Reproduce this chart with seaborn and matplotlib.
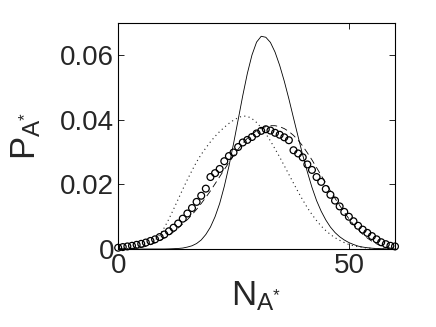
import matplotlib
matplotlib.use('Agg')
import matplotlib.pyplot as plt
import numpy as np
import pandas as pd
import seaborn as sns

# N_A* values 0..60
n_vals = list(range(61))

# circles (simulation)
p_circles = [0.0004, 0.0006, 0.0008, 0.0010, 0.0013, 0.0016, 0.0020, 0.0025, 0.0030, 0.0037,
             0.0045, 0.0055, 0.0066, 0.0079, 0.0094, 0.0110, 0.0127, 0.0146, 0.0165, 0.0187,
             0.0223, 0.0235, 0.0248, 0.0272, 0.0288, 0.0299, 0.0316, 0.0330, 0.0338, 0.0347,
             0.0358, 0.0366, 0.0371, 0.0367, 0.0360, 0.0354, 0.0346, 0.0337, 0.0306, 0.0296,
             0.0284, 0.0262, 0.0245, 0.0223, 0.0208, 0.0186, 0.0168, 0.0150, 0.0132, 0.0115,
             0.0100, 0.0086, 0.0072, 0.0060, 0.0050, 0.0040, 0.0030, 0.0021, 0.0015, 0.0010,
             0.0008]

# solid curve (narrow)
p_solid = [0, 0, 0, 0, 0, 0, 0, 0, 0, 0,
           0, 0.00004, 0.0001, 0.00017, 0.0003, 0.0006, 0.0010, 0.0017, 0.0028, 0.0045,
           0.0068, 0.0100, 0.0141, 0.0194, 0.0256, 0.0326, 0.0400, 0.0475, 0.0544, 0.0601,
           0.0641, 0.0659, 0.0656, 0.0640, 0.0610, 0.0569, 0.0520, 0.0465, 0.0406, 0.0348,
           0.0291, 0.0239, 0.0191, 0.0150, 0.0117, 0.0090, 0.0068, 0.0051, 0.0038, 0.0028,
           0.0020, 0.0014, 0.0009, 0.0006, 0.0004, 0.00025, 0.00015, 0.0001, 0.00005, 0.00003,
           0.00001]

# dotted curve
p_dotted = [0, 0, 0.0001, 0.0002, 0.0004, 0.0007, 0.0010, 0.0016, 0.0027, 0.0044,
            0.0066, 0.0093, 0.0123, 0.0154, 0.0185, 0.0215, 0.0243, 0.0270, 0.0293, 0.0313,
            0.0332, 0.0349, 0.0364, 0.0377, 0.0389, 0.0399, 0.0407, 0.0412, 0.0411, 0.0404,
            0.0392, 0.0376, 0.0357, 0.0335, 0.0310, 0.0285, 0.0258, 0.0231, 0.0204, 0.0177,
            0.0152, 0.0128, 0.0107, 0.0088, 0.0071, 0.0057, 0.0045, 0.0035, 0.0027, 0.0020,
            0.0014, 0.0010, 0.0007, 0.0005, 0.0003, 0.0002, 0.0001, 0.0001, 0.00005, 0,
            0]

# dashed curve
p_dashed = [0, 0, 0.0001, 0.0002, 0.0003, 0.0005, 0.0008, 0.0013, 0.0019, 0.0026,
            0.0034, 0.0043, 0.0053, 0.0065, 0.0078, 0.0091, 0.0106, 0.0123, 0.0141, 0.0160,
            0.0180, 0.0202, 0.0224, 0.0246, 0.0268, 0.0289, 0.0309, 0.0327, 0.0343, 0.0356,
            0.0366, 0.0374, 0.0379, 0.0382, 0.0382, 0.0379, 0.0373, 0.0364, 0.0352, 0.0337,
            0.0319, 0.0298, 0.0276, 0.0252, 0.0228, 0.0204, 0.0180, 0.0157, 0.0135, 0.0114,
            0.0094, 0.0076, 0.0060, 0.0046, 0.0034, 0.0024, 0.0016, 0.0010, 0.0006, 0.0003,
            0.0001]

df = pd.DataFrame({'n': n_vals, 'circ': p_circles, 'solid': p_solid,
                   'dot': p_dotted, 'dash': p_dashed})

sns.set_style('ticks')
plt.rcParams['font.family'] = ['Liberation Sans', 'DejaVu Sans']
plt.rcParams['mathtext.fontset'] = 'custom'
plt.rcParams['mathtext.rm'] = 'Liberation Sans'
plt.rcParams['mathtext.it'] = 'Liberation Sans:italic'
plt.rcParams['mathtext.bf'] = 'Liberation Sans:bold'

fig = plt.figure(figsize=(4.36, 3.27), dpi=100)
ax = fig.add_axes([0.271, 0.2385, 0.635, 0.691])

sns.lineplot(data=df, x='n', y='solid', ax=ax, color='black', linewidth=0.6)
sns.lineplot(data=df, x='n', y='dot', ax=ax, color='#222222', linewidth=0.8,
             linestyle=(0, (1, 3)))
sns.lineplot(data=df, x='n', y='dash', ax=ax, color='black', linewidth=0.6,
             linestyle=(0, (8, 5)))
sns.scatterplot(data=df, x='n', y='circ', ax=ax, marker='o', facecolors='none',
                edgecolor='black', linewidth=0.9, s=24, clip_on=False, zorder=5)

ax.set_xlim(0, 60)
ax.set_ylim(0, 0.07)
ax.set_xticks([0, 50])
ax.set_xticklabels(['0', '50'])
ax.set_yticks([0, 0.02, 0.04, 0.06])
ax.set_yticklabels(['0', '0.02', '0.04', '0.06'])
ax.tick_params(direction='in', top=True, right=True, length=4, width=0.6,
               labelsize=20, pad=3, color='black')
for sp in ax.spines.values():
    sp.set_visible(True)
    sp.set_linewidth(0.8)
    sp.set_color('black')

ax.set_xlabel(r'$\mathrm{N}_{\mathrm{A}^{*}}$', fontsize=25, labelpad=0)
ax.set_ylabel(r'$\mathrm{P}_{\mathrm{A}^{*}}$', fontsize=25, labelpad=12)

fig.savefig('out.png', dpi=100)
